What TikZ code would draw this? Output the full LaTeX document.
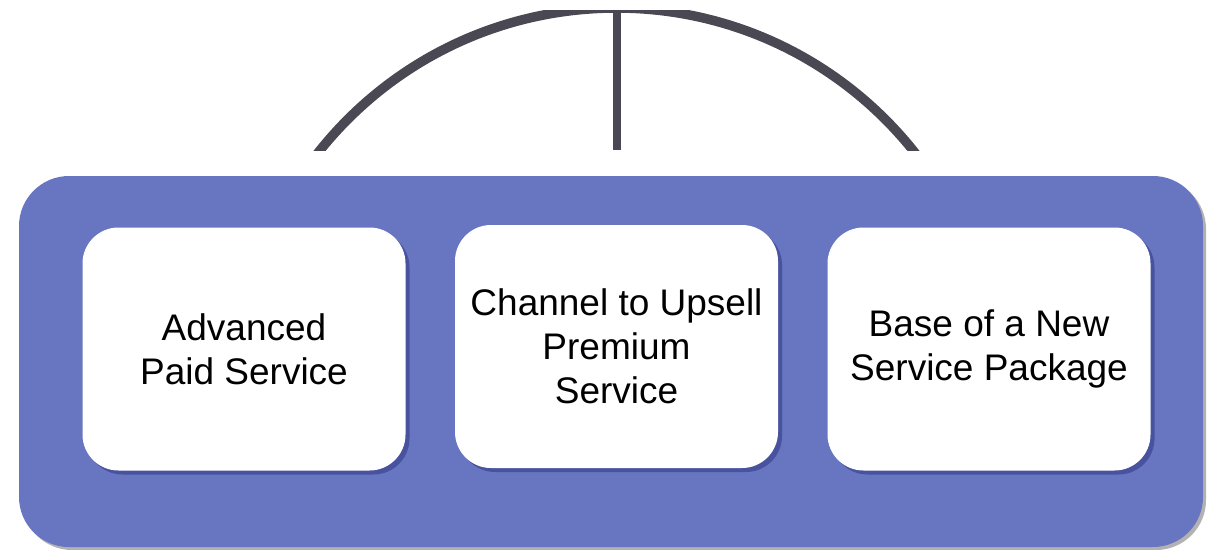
\documentclass[tikz,border=0pt]{standalone}
\usepackage{fontspec}
\setmainfont{Liberation Sans}
\usepackage{tikz}
\usetikzlibrary{shadows}
\definecolor{panelblue}{RGB}{104,118,194}
\definecolor{archgray}{RGB}{74,72,83}
\tikzstyle{panel} = [fill=panelblue, rectangle, rounded corners=50,
    inner sep=0, minimum width=1184, minimum height=371,
    drop shadow={shadow xshift=3, shadow yshift=3, opacity=0.3, fill=black}]
\tikzstyle{card} = [fill=white, rectangle, rounded corners=36,
    inner sep=0, minimum width=323, minimum height=243, align=center,
    font=\fontsize{37}{44}\selectfont,
    drop shadow={shadow xshift=4, shadow yshift=4, opacity=0.3, fill=black!70!blue}]
\tikzstyle{arch} = [draw=archgray, line width=9.5]

\begin{document}
\begin{tikzpicture}[x=1pt, y=-1pt]
\useasboundingbox (0,0) rectangle (1222,549);
% arch over the panel
\begin{scope}
\clip (0,10) rectangle (1222,150);
\draw[arch] (616.5,388) circle (380);
\draw[arch, line width=8] (617,0) -- (617,150);
\end{scope}
% panel with the three cards
\node[panel] (panel) at (611,361.5) {};
\node[card] (adv) at (244,349) {Advanced\\Paid Service};
\node[card] (chan) at (616.5,346.5) {Channel to Upsell\\Premium\\Service};
\node[card] (base) at (989,349) {Base of a New\\Service Package};
\end{tikzpicture}
\end{document}
